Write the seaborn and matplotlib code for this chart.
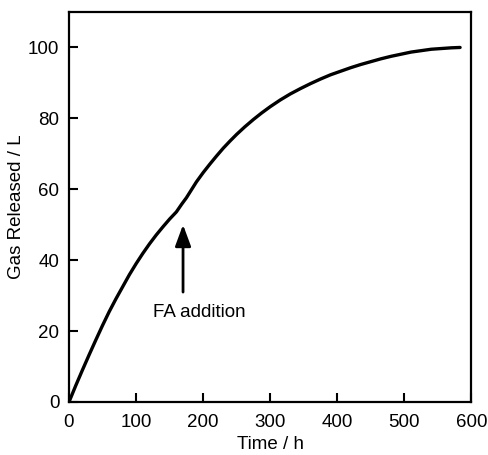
import matplotlib
matplotlib.use("Agg")
import matplotlib.pyplot as plt
import seaborn as sns
import pandas as pd

# values
time_h = [0, 10, 20, 30, 40, 50, 60, 70, 80, 90, 100, 110, 120, 130,
          140, 150, 160, 168,
          175, 182, 190, 200, 210, 220, 230, 240, 250, 262, 275, 287,
          300, 315, 330, 345, 360, 375, 390, 405, 420, 435, 450, 465,
          480, 495, 510, 525, 540, 555, 570, 583]
gas_l = [0, 4.6, 9.0, 13.3, 17.5, 21.6, 25.5, 29.1, 32.5, 35.9, 39.0,
         41.9, 44.6, 47.1, 49.4, 51.6, 53.6, 55.8,
         57.6, 59.7, 62.1, 64.7, 67.1, 69.4, 71.6, 73.6, 75.5, 77.6,
         79.7, 81.5, 83.3, 85.2, 86.9, 88.4, 89.8, 91.1, 92.3, 93.3,
         94.3, 95.2, 96.0, 96.8, 97.5, 98.1, 98.7, 99.1, 99.5, 99.7,
         99.9, 100.0]

fa_time = 170
arrow_from, arrow_to = 31, 50
note = "FA addition"

df = pd.DataFrame({"Time": time_h, "Gas": gas_l})

sns.set_style("ticks")
plt.rcParams["font.family"] = ["Liberation Sans", "DejaVu Sans"]
plt.rcParams["font.size"] = 13.5
plt.rcParams["text.color"] = "black"
plt.rcParams["axes.labelcolor"] = "black"

fig = plt.figure(figsize=(4.89, 4.55), dpi=100)
ax = fig.add_axes([0.1411, 0.1165, 0.8231, 0.8571])

sns.lineplot(data=df, x="Time", y="Gas", ax=ax, color="black", lw=2.4,
             sort=False)

ax.annotate("", xy=(fa_time, arrow_to), xytext=(fa_time, arrow_from),
            arrowprops=dict(arrowstyle="-|>,head_length=0.65,head_width=0.24",
                            color="black", lw=2,
                            mutation_scale=20, shrinkA=0, shrinkB=0))
ax.text(195, 25.3, note, ha="center", va="center", fontsize=13.5)

ax.set_xlim(0, 600)
ax.set_ylim(0, 110)
ax.set_xticks(range(0, 601, 100))
ax.set_yticks(range(0, 101, 20))
ax.set_xlabel("Time / h", fontsize=13.5, labelpad=3)
ax.set_ylabel("Gas Released / L", fontsize=13.5, labelpad=2)

ax.tick_params(direction="in", length=6.5, width=1.5, colors="black",
               labelsize=13.5)
ax.tick_params(axis="x", pad=9)
ax.tick_params(axis="y", pad=7)
for s in ax.spines.values():
    s.set_linewidth(1.6)
    s.set_color("black")

fig.savefig("out.png", dpi=100)
